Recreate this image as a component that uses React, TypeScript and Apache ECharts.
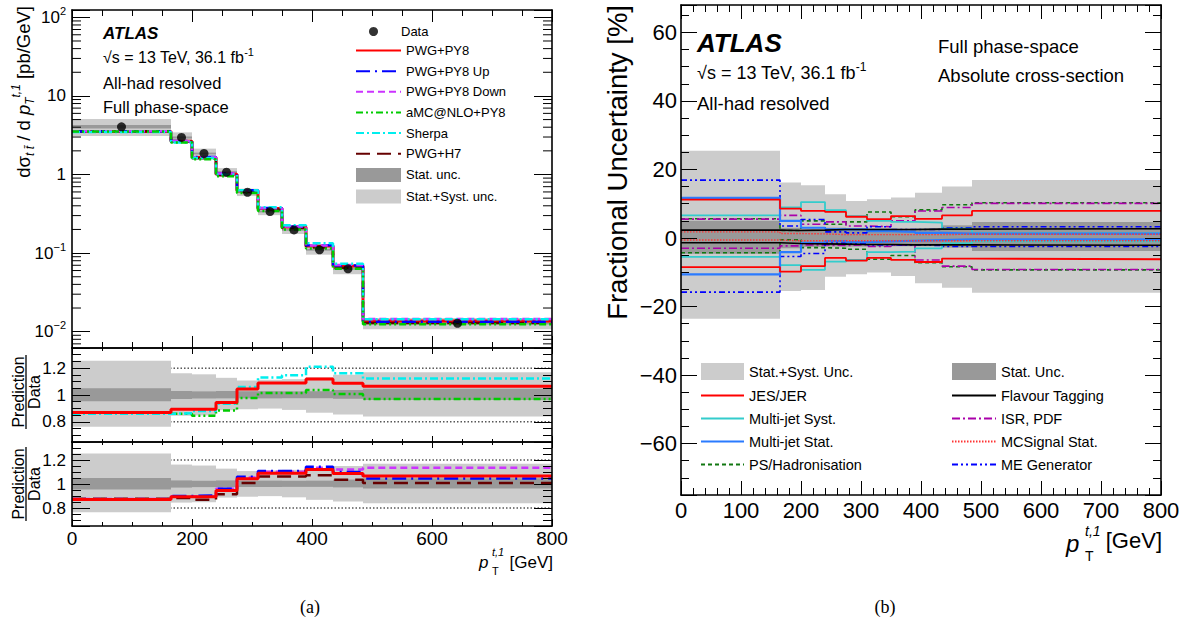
import React, { useEffect, useRef } from "react";
import * as echarts from "echarts";

// ---------------- data ----------------
const EDGES = [0, 165, 200, 240, 275, 310, 350, 390, 435, 485, 800];
const DATA_XSEC = [4.05, 2.96, 1.85, 1.07, 0.595, 0.338, 0.197, 0.11, 0.063, 0.0128];

const RATIO_PWG_PY8 = [0.87, 0.893, 0.893, 0.945, 1.044, 1.09, 1.09, 1.12, 1.088, 1.066];
const RATIO_PWG_PY8_UP = [0.87, 0.9, 0.905, 0.96, 1.06, 1.108, 1.108, 1.143, 1.1, 1.046];
const RATIO_PWG_PY8_DOWN = [0.876, 0.897, 0.897, 0.96, 1.054, 1.103, 1.103, 1.135, 1.12, 1.135];
const RATIO_AMC_PY8 = [0.872, 0.86, 0.845, 0.885, 0.978, 1.015, 1.015, 1.037, 1.007, 0.97];
const RATIO_SHERPA = [0.86, 0.865, 0.88, 0.934, 1.06, 1.13, 1.147, 1.21, 1.162, 1.123];
const RATIO_PWG_H7 = [0.878, 0.884, 0.868, 0.914, 1.008, 1.062, 1.062, 1.073, 1.035, 1.008];

// fractional uncertainties [%]
const TOT_UP = [25.5, 16.2, 15.4, 12.8, 10.8, 11.3, 11.8, 13.2, 15.0, 16.9];
const TOT_DN = [-23.6, -15.5, -15.2, -11.3, -10.6, -10.1, -11.1, -13.2, -14.5, -16.0];
const STAT_UP = [5.0, 3.0, 2.7, 3.0, 2.8, 2.8, 2.7, 2.8, 3.7, 4.7];
const STAT_DN = [-4.6, -3.0, -2.6, -2.5, -2.5, -2.5, -2.4, -2.4, -2.8, -3.8];
const JES_UP = [11.2, 8.6, 7.9, 7.6, 6.2, 5.5, 6.4, 5.6, 6.6, 7.9];
const JES_DN = [-8.5, -9.8, -8.2, -5.8, -6.6, -5.8, -6.4, -7.0, -6.0, -6.2];
const MJSYST_UP = [6.6, 8.9, 10.5, 8.1, 6.4, 5.0, 4.7, 4.5, 2.7, 1.4];
const MJSYST_DN = [-5.5, -7.9, -9.3, -6.9, -6.4, -4.1, -4.0, -3.0, -1.6, -1.0];
const MJSTAT_UP = [11.7, 5.0, 3.0, 2.5, 2.5, 2.0, 1.8, 1.5, 1.3, 1.3];
const MJSTAT_DN = [-10.6, -4.1, -1.4, -0.9, -1.2, -1.0, -0.8, -0.6, -0.4, -0.4];
const PSHAD_UP = [5.6, 2.2, 5.0, 4.0, 4.7, 7.6, 6.2, 8.2, 9.7, 10.3];
const PSHAD_DN = [-4.3, -0.5, -2.8, -3.0, -3.3, -6.2, -5.1, -7.2, -8.4, -9.3];
const FTAG_UP = [2.3, 2.2, 2.3, 2.5, 2.5, 2.5, 2.5, 2.6, 2.6, 2.7];
const FTAG_DN = [-1.4, -1.6, -1.7, -1.8, -1.9, -1.9, -2.0, -2.0, -2.0, -2.1];
const ISRPDF_UP = [5.5, 6.6, 4.0, 4.7, 3.5, 3.3, 5.0, 7.9, 8.9, 10.1];
const ISRPDF_DN = [-3.0, -2.3, -2.0, -2.2, -2.0, -2.5, -2.1, -6.4, -8.2, -9.2];
const MCSTAT_UP = [1.8, 1.3, 1.2, 1.0, 1.0, 1.0, 1.0, 1.0, 1.1, 1.1];
const MCSTAT_DN = [-0.6, -0.8, -0.8, -0.8, -0.8, -0.8, -0.8, -0.8, -0.8, -0.8];
const MEGEN_UP = [16.9, 3.5, 5.4, 1.8, 1.5, 3.3, 2.5, 2.5, 3.0, 3.3];
const MEGEN_DN = [-15.8, -5.4, -4.5, -1.5, -1.5, -2.0, -2.0, -2.2, -2.5, -2.5];

const RATIO_GUIDES = [0.8, 1.2];
const RATIO_LABELS = [0.8, 1, 1.2];
const LOG_MINOR_MULT = [2, 3, 4, 5, 6, 7, 8, 9];
const LOG_DECADES = [-3, -2, -1, 0, 1, 2];

const FONT = '"Liberation Sans", Arial, Helvetica, sans-serif';
const SERIF = '"Liberation Serif", "DejaVu Serif", serif';

function buildOption(): any {
  const nb = EDGES.length - 1;
  const centers = EDGES.slice(0, -1).map((e, i) => (e + EDGES[i + 1]) / 2);
  const stepPts = (vals: number[]) => [
    ...vals.map((v, i) => [EDGES[i], v]),
    [EDGES[nb], vals[nb - 1]],
  ];
  const mul = (a: number[], b: number[]) => a.map((v, i) => v * b[i]);
  const rel = (pct: number[]) => pct.map((p) => 1 + p / 100);

  const band = (name: string | undefined, lo: number[], hi: number[], g: number, color: string, z = 1) => ({
    type: "custom",
    name,
    xAxisIndex: 2 * g,
    yAxisIndex: 2 * g,
    data: lo.map((l, i) => [EDGES[i], EDGES[i + 1], l, hi[i]]),
    encode: { x: [0, 1], y: [2, 3] },
    itemStyle: { color },
    z,
    silent: true,
    clip: true,
    renderItem: (params: any, api: any) => {
      const a = api.coord([api.value(0), api.value(3)]);
      const b = api.coord([api.value(1), api.value(2)]);
      return {
        type: "rect",
        shape: { x: a[0], y: a[1], width: b[0] - a[0], height: b[1] - a[1] },
        style: { fill: color },
      };
    },
  });

  const line = (name: string | undefined, vals: number[], g: number, color: string, width: number, type: any, z = 3) => ({
    type: "line",
    name,
    xAxisIndex: 2 * g,
    yAxisIndex: 2 * g,
    data: stepPts(vals),
    step: "end",
    symbol: "none",
    showSymbol: false,
    lineStyle: { color, width, type },
    itemStyle: { color },
    z,
    silent: true,
    clip: true,
  });

  const guide = (y: number, g: number) => ({
    type: "line",
    xAxisIndex: 2 * g,
    yAxisIndex: 2 * g,
    data: [[0, y], [800, y]],
    symbol: "none",
    lineStyle: { color: "#000", width: 1, type: [1.5, 2] },
    z: 0,
    silent: true,
  });

  const tickLine = { lineStyle: { color: "#000", width: 1 } };
  const axisLine = { show: true, onZero: false, lineStyle: { color: "#000", width: 1.6 } };

  const xAx = (grid: number, position: string, labels: boolean, big: boolean, major: number, minor: number) => ({
    type: "value",
    gridIndex: grid,
    position,
    min: 0,
    max: 800,
    interval: big ? 100 : 200,
    axisLine,
    axisTick: { show: true, inside: true, length: major, ...tickLine },
    minorTick: { show: true, splitNumber: big ? 5 : 4, length: minor, ...tickLine },
    axisLabel: {
      show: labels,
      color: "#000",
      fontFamily: FONT,
      fontSize: big ? 22 : 19,
      margin: big ? 4 : 3,
    },
    splitLine: { show: false },
    minorSplitLine: { show: false },
    z: 10,
  });

  const logFmt = (v: number) => {
    const lg = Math.log10(v);
    const n = Math.round(lg);
    if (Math.abs(lg - n) > 1e-6) return "";
    if (n === 0) return "{b|1}";
    if (n === 1) return "{b|10}";
    return `{b|10}{s|${n < 0 ? "\u2212" + -n : n}}`;
  };
  const logAx = (position: string, labels: boolean) => ({
    type: "log",
    logBase: 10,
    gridIndex: 0,
    position,
    min: 0.0062,
    max: 124,
    axisLine,
    axisTick: { show: true, inside: true, length: 18, ...tickLine },
    axisLabel: {
      show: labels,
      formatter: logFmt,
      margin: 6,
      rich: {
        b: { fontSize: 17, fontFamily: FONT, color: "#000", lineHeight: 24 },
        s: { fontSize: 11, fontFamily: FONT, color: "#000", lineHeight: 11, verticalAlign: "top" },
      },
    },
    splitLine: { show: false },
    z: 10,
  });

  const ratioAx = (grid: number, position: string, labels: boolean) => ({
    type: "value",
    gridIndex: grid,
    position,
    min: 0.65,
    max: 1.35,
    splitNumber: 3,
    axisLine,
    axisTick: { show: true, inside: true, length: 18, ...tickLine },
    minorTick: { show: true, splitNumber: 4, length: 9, ...tickLine },
    axisLabel: {
      show: labels,
      color: "#000",
      fontFamily: FONT,
      fontSize: 17,
      margin: 6,
      formatter: (v: number) => (RATIO_LABELS.some((t) => Math.abs(t - v) < 1e-6) ? String(+v.toFixed(2)) : ""),
    },
    splitLine: { show: false },
    minorSplitLine: { show: false },
    z: 10,
  });

  const fracAx = (position: string, labels: boolean) => ({
    type: "value",
    gridIndex: 3,
    position,
    min: -75,
    max: 68,
    splitNumber: 7,
    axisLine,
    axisTick: { show: true, inside: true, length: 16, ...tickLine },
    minorTick: { show: true, splitNumber: 4, length: 8, ...tickLine },
    axisLabel: {
      show: labels,
      color: "#000",
      fontFamily: FONT,
      fontSize: 22,
      margin: 4,
      formatter: (v: number) => (Math.abs(v % 20) < 1e-6 ? String(v).replace("-", "\u2212") : ""),
    },
    splitLine: { show: false },
    minorSplitLine: { show: false },
    z: 10,
  });

  const logMinor: number[][] = [];
  LOG_DECADES.forEach((d) =>
    LOG_MINOR_MULT.forEach((m) => {
      const v = m * Math.pow(10, d);
      if (v > 0.0062 && v < 124) logMinor.push([400, v]);
    })
  );

  const C = {
    red: "#ff0000",
    up: "#0000ff",
    down: "#cc33ff",
    amc: "#00cc00",
    sherpa: "#00eeee",
    h7: "#660000",
    light: "#cccccc",
    dark: "#999999",
  };
  const D = {
    up: [14, 5, 2, 5],
    down: [7, 4],
    amc: [7, 3, 2, 3, 2, 3],
    sherpa: [8, 3, 2, 3],
    h7: [14, 7],
  };

  const series: any[] = [];
  // ---- main (grid 0)
  series.push(band("Stat.+Syst. unc.", mul(DATA_XSEC, rel(TOT_DN)), mul(DATA_XSEC, rel(TOT_UP)), 0, C.light, 1));
  series.push(band("Stat. unc.", mul(DATA_XSEC, rel(STAT_DN)), mul(DATA_XSEC, rel(STAT_UP)), 0, C.dark, 1));
  series.push(line("PWG+PY8", mul(DATA_XSEC, RATIO_PWG_PY8), 0, C.red, 3, "solid", 3));
  series.push(line("PWG+H7", mul(DATA_XSEC, RATIO_PWG_H7), 0, C.h7, 2.5, D.h7, 3));
  series.push(line("PWG+PY8 Up", mul(DATA_XSEC, RATIO_PWG_PY8_UP), 0, C.up, 2.5, D.up, 3));
  series.push(line("PWG+PY8 Down", mul(DATA_XSEC, RATIO_PWG_PY8_DOWN), 0, C.down, 2.5, D.down, 3));
  series.push(line("Sherpa", mul(DATA_XSEC, RATIO_SHERPA), 0, C.sherpa, 2.5, D.sherpa, 3));
  series.push(line("aMC@NLO+PY8", mul(DATA_XSEC, RATIO_AMC_PY8), 0, C.amc, 2.5, D.amc, 4));
  series.push({
    type: "scatter",
    name: "Data",
    xAxisIndex: 0,
    yAxisIndex: 0,
    data: centers.map((c, i) => [c, DATA_XSEC[i]]),
    symbol: "circle",
    symbolSize: 9,
    itemStyle: { color: "#000" },
    z: 6,
    silent: true,
  });
  series.push({
    type: "custom",
    xAxisIndex: 0,
    yAxisIndex: 0,
    data: logMinor,
    encode: { x: 0, y: 1 },
    z: 11,
    silent: true,
    clip: false,
    renderItem: (params: any, api: any) => {
      const v = api.value(1);
      const l = api.coord([0, v]);
      const r = api.coord([800, v]);
      return {
        type: "group",
        children: [
          { type: "line", shape: { x1: l[0], y1: l[1], x2: l[0] + 9, y2: l[1] }, style: { stroke: "#000", lineWidth: 1 } },
          { type: "line", shape: { x1: r[0] - 9, y1: r[1], x2: r[0], y2: r[1] }, style: { stroke: "#000", lineWidth: 1 } },
        ],
      };
    },
  });

  // ---- ratio panels
  for (const g of [1, 2]) {
    RATIO_GUIDES.forEach((y) => series.push(guide(y, g)));
    series.push(band("Stat.+Syst. unc.", rel(TOT_DN), rel(TOT_UP), g, C.light, 1));
    series.push(band("Stat. unc.", rel(STAT_DN), rel(STAT_UP), g, C.dark, 1));
  }
  series.push(line("aMC@NLO+PY8", RATIO_AMC_PY8, 1, C.amc, 2.5, D.amc, 3));
  series.push(line("Sherpa", RATIO_SHERPA, 1, C.sherpa, 2.5, D.sherpa, 3));
  series.push(line("PWG+PY8", RATIO_PWG_PY8, 1, C.red, 3, "solid", 4));
  series.push(line("PWG+H7", RATIO_PWG_H7, 2, C.h7, 2.5, D.h7, 3));
  series.push(line("PWG+PY8 Down", RATIO_PWG_PY8_DOWN, 2, C.down, 2.5, D.down, 3));
  series.push(line("PWG+PY8 Up", RATIO_PWG_PY8_UP, 2, C.up, 2.5, D.up, 3));
  series.push(line("PWG+PY8", RATIO_PWG_PY8, 2, C.red, 3, "solid", 4));

  // ---- fractional uncertainty panel (grid 3)
  series.push(band("Stat.+Syst. Unc.", TOT_DN, TOT_UP, 3, C.light, 1));
  series.push(band("Stat. Unc.", STAT_DN, STAT_UP, 3, C.dark, 1));
  const sys: [string, number[], number[], string, number, any][] = [
    ["PS/Hadronisation", PSHAD_UP, PSHAD_DN, "#117711", 1.6, [4, 3]],
    ["ISR, PDF", ISRPDF_UP, ISRPDF_DN, "#aa00aa", 1.6, [8, 3, 2, 3]],
    ["ME Generator", MEGEN_UP, MEGEN_DN, "#0000ff", 1.6, [6, 3, 2, 3, 2, 3]],
    ["Multi-jet Syst.", MJSYST_UP, MJSYST_DN, "#33cccc", 1.8, "solid"],
    ["Multi-jet Stat.", MJSTAT_UP, MJSTAT_DN, "#2a7bff", 2.2, "solid"],
    ["JES/JER", JES_UP, JES_DN, "#ff0000", 1.8, "solid"],
    ["Flavour Tagging", FTAG_UP, FTAG_DN, "#000000", 1.6, "solid"],
    ["MCSignal Stat.", MCSTAT_UP, MCSTAT_DN, "#ff3333", 1.4, [1.5, 1.5]],
  ];
  sys.forEach(([name, up, dn, col, w, t]) => {
    series.push(line(name, up, 3, col, w, t, 3));
    series.push(line(name, dn, 3, col, w, t, 3));
  });

  const legendText = (size: number, pad: number) => ({
    color: "#000",
    fontFamily: FONT,
    fontSize: size,
    padding: [0, 0, 0, pad],
  });
  const lineItem = (name: string) => ({ name, itemStyle: { opacity: 0 } });

  const legend = [
    {
      orient: "vertical",
      left: 364,
      top: 20,
      itemWidth: 45,
      itemHeight: 9,
      selectedMode: false,
      data: [{ name: "Data", icon: "circle" }],
      textStyle: legendText(13, 0),
    },
    {
      orient: "vertical",
      left: 350,
      top: 39,
      itemWidth: 45,
      itemHeight: 14,
      itemGap: 7.65,
      selectedMode: false,
      data: [
        lineItem("PWG+PY8"),
        lineItem("PWG+PY8 Up"),
        lineItem("PWG+PY8 Down"),
        lineItem("aMC@NLO+PY8"),
        lineItem("Sherpa"),
        lineItem("PWG+H7"),
        { name: "Stat. unc.", icon: "rect" },
        { name: "Stat.+Syst. unc.", icon: "rect" },
      ],
      textStyle: legendText(13, 0),
    },
    {
      orient: "vertical",
      left: 695,
      top: 358,
      itemWidth: 43,
      itemHeight: 17,
      itemGap: 8,
      selectedMode: false,
      data: [
        { name: "Stat.+Syst. Unc.", icon: "rect" },
        lineItem("JES/JER"),
        lineItem("Multi-jet Syst."),
        lineItem("Multi-jet Stat."),
        lineItem("PS/Hadronisation"),
      ],
      textStyle: legendText(14.5, 0),
    },
    {
      orient: "vertical",
      left: 946,
      top: 358,
      itemWidth: 44,
      itemHeight: 17,
      itemGap: 8,
      selectedMode: false,
      data: [
        { name: "Stat. Unc.", icon: "rect" },
        lineItem("Flavour Tagging"),
        lineItem("ISR, PDF"),
        lineItem("MCSignal Stat."),
        lineItem("ME Generator"),
      ],
      textStyle: legendText(14.5, 0),
    },
  ];

  const txt = (x: number, y: number, text: string, font: string, extra: any = {}) => ({
    type: "text",
    x,
    y,
    silent: true,
    z: 100,
    rotation: extra.rotation || 0,
    style: {
      text,
      font,
      fill: "#000",
      align: extra.align || "left",
      verticalAlign: extra.va || "middle",
      rich: extra.rich,
    },
  });
  const supRich = (size: number) => ({
    n: { fontSize: size, fontFamily: FONT, fill: "#000", lineHeight: size + 6 },
    sup: { fontSize: Math.round(size * 0.68), fontFamily: FONT, fill: "#000", lineHeight: Math.round(size * 0.68), verticalAlign: "top" },
  });

  const graphic: any[] = [
    // left panel labels
    txt(103, 33, "ATLAS", `italic bold 17px ${FONT}`),
    txt(103, 57, "{n|\u221As = 13 TeV, 36.1 fb}{sup|-1}", `16px ${FONT}`, { rich: supRich(16) }),
    txt(103, 83, "All-had resolved", `16.5px ${FONT}`),
    txt(103, 107, "Full phase-space", `16.5px ${FONT}`),
    // right panel labels
    txt(697, 43, "ATLAS", `italic bold 26px ${FONT}`),
    txt(697, 73, "{n|\u221As = 13 TeV, 36.1 fb}{sup|-1}", `18px ${FONT}`, { rich: supRich(18) }),
    txt(697, 103, "All-had resolved", `18.5px ${FONT}`),
    txt(938, 46, "Full phase-space", `18.5px ${FONT}`),
    txt(938, 75, "Absolute cross-section", `18.5px ${FONT}`),
    // left y title
    txt(23, 6, "{n|d\u03c3}{sub|t t\u0304}{n| / d }{i|p}{sub|T}{sup|t,1}{n| [pb/GeV]}", `18.5px ${FONT}`, {
      rotation: Math.PI / 2,
      align: "right",
      rich: {
        n: { fontSize: 18.5, fontFamily: FONT, fill: "#000", lineHeight: 26 },
        i: { fontSize: 18.5, fontFamily: FONT, fontStyle: "italic", fill: "#000", lineHeight: 26 },
        sub: { fontSize: 12, fontFamily: FONT, fontStyle: "italic", fill: "#000", lineHeight: 12, verticalAlign: "bottom" },
        sup: { fontSize: 12, fontFamily: FONT, fontStyle: "italic", fill: "#000", lineHeight: 12, verticalAlign: "top" },
      },
    }),
    // ratio titles
    txt(18, 392, "Prediction", `16px ${FONT}`, { rotation: Math.PI / 2, align: "center" }),
    { type: "line", silent: true, z: 100, shape: { x1: 26, y1: 355, x2: 26, y2: 429 }, style: { stroke: "#000", lineWidth: 1.3 } },
    txt(34, 392, "Data", `16px ${FONT}`, { rotation: Math.PI / 2, align: "center" }),
    txt(18, 484, "Prediction", `16px ${FONT}`, { rotation: Math.PI / 2, align: "center" }),
    { type: "line", silent: true, z: 100, shape: { x1: 26, y1: 447, x2: 26, y2: 521 }, style: { stroke: "#000", lineWidth: 1.3 } },
    txt(34, 484, "Data", `16px ${FONT}`, { rotation: Math.PI / 2, align: "center" }),
    // left x title
    txt(479, 562, "p", `italic 17px ${FONT}`),
    txt(492, 552, "t,1", `italic 11px ${FONT}`),
    txt(492, 571, "T", `11px ${FONT}`),
    txt(553, 562, "[GeV]", `17px ${FONT}`, { align: "right" }),
    // right y title
    txt(617, 5, "Fractional Uncertainty [%]", `27.5px ${FONT}`, { rotation: Math.PI / 2, align: "right" }),
    // right x title
    txt(1066, 543, "p", `italic 24px ${FONT}`),
    txt(1085, 531, "t,1", `italic 14px ${FONT}`),
    txt(1085, 556, "T", `14px ${FONT}`),
    txt(1162, 540, "[GeV]", `22px ${FONT}`, { align: "right" }),
    // captions
    txt(310, 607, "(a)", `18px ${SERIF}`, { align: "center" }),
    txt(885, 607, "(b)", `18px ${SERIF}`, { align: "center" }),
  ];

  return {
    animation: false,
    backgroundColor: "#ffffff",
    grid: [
      { left: 72, top: 10, width: 480, height: 338 },
      { left: 72, top: 348, width: 480, height: 94 },
      { left: 72, top: 442, width: 480, height: 84 },
      { left: 681, top: 5, width: 480, height: 490 },
    ],
    xAxis: [
      xAx(0, "bottom", false, false, 12, 6),
      xAx(0, "top", false, false, 12, 6),
      xAx(1, "bottom", false, false, 6, 3),
      xAx(1, "top", false, false, 6, 3),
      xAx(2, "bottom", true, false, 7, 4),
      xAx(2, "top", false, false, 6, 3),
      xAx(3, "bottom", true, true, 14, 7),
      xAx(3, "top", false, true, 14, 7),
    ],
    yAxis: [
      logAx("left", true),
      logAx("right", false),
      ratioAx(1, "left", true),
      ratioAx(1, "right", false),
      ratioAx(2, "left", true),
      ratioAx(2, "right", false),
      fracAx("left", true),
      fracAx("right", false),
    ],
    legend,
    series,
    graphic: { elements: graphic },
  };
}

export default function App() {
  const ref = useRef<HTMLDivElement>(null);
  useEffect(() => {
    if (!ref.current) return;
    const chart = echarts.init(ref.current, null, { renderer: "svg" });
    chart.setOption(buildOption());
    return () => chart.dispose();
  }, []);
  return (
    <div
      ref={ref}
      style={{ position: "absolute", left: 0, top: 0, width: 1189, height: 626, background: "#fff" }}
    />
  );
}
